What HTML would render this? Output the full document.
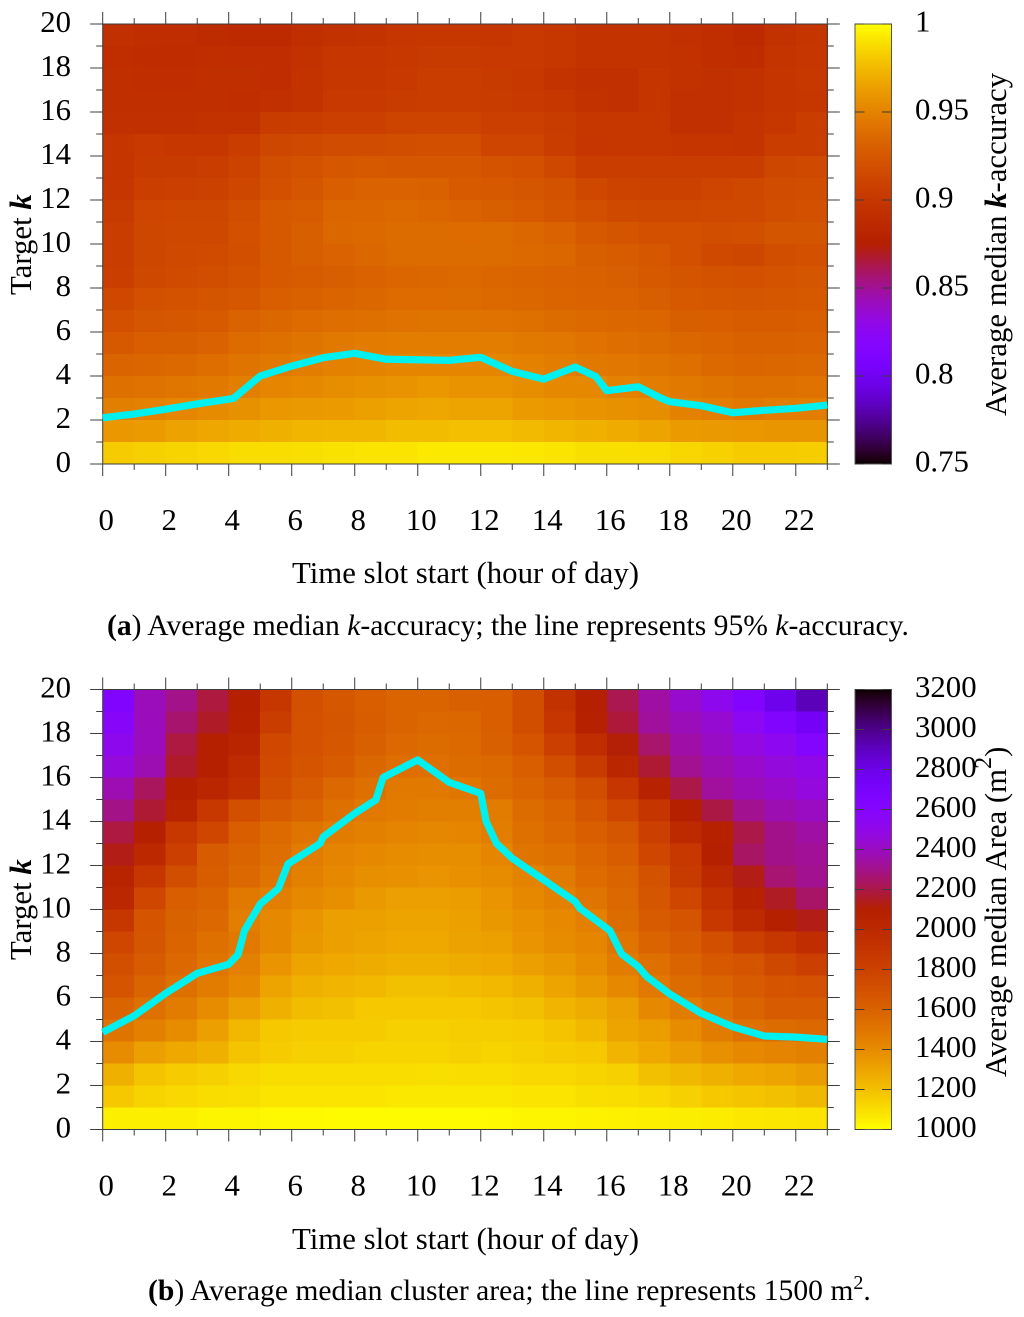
<!DOCTYPE html>
<html>
<head>
<meta charset="utf-8">
<title>Average median k-accuracy and cluster area heatmaps</title>
<style>
html,body{margin:0;padding:0;background:#fff;}
svg{display:block;font-family:"Liberation Serif",serif;fill:#000;}
</style>
</head>
<body>
<svg id="figure" xmlns="http://www.w3.org/2000/svg" width="1024" height="1317" viewBox="0 0 1024 1317">
  <g id="panel-a"></g>
  <g id="panel-b"></g>

  <text transform="translate(31,295) rotate(-90)" font-size="30.8">Target <tspan font-style="italic" font-weight="bold">k</tspan></text>
  <text x="292" y="583" font-size="30.8">Time slot start (hour of day)</text>
  <text transform="translate(1006,416) rotate(-90)" font-size="30.8">Average median <tspan font-style="italic" font-weight="bold">k</tspan>-accuracy</text>
  <text x="107" y="635" font-size="29.6"><tspan font-weight="bold">(a</tspan>) Average median <tspan font-style="italic">k</tspan>-accuracy; the line represents 95% <tspan font-style="italic">k</tspan>-accuracy.</text>

  <text transform="translate(31,960) rotate(-90)" font-size="30.8">Target <tspan font-style="italic" font-weight="bold">k</tspan></text>
  <text x="292" y="1249" font-size="30.8">Time slot start (hour of day)</text>
  <text transform="translate(1006,1077) rotate(-90)" font-size="30.8">Average median Area (m<tspan dy="-15" font-size="24">2</tspan><tspan dy="15">)</tspan></text>
  <text x="148" y="1300" font-size="29.6"><tspan font-weight="bold">(b</tspan>) Average median cluster area; the line represents 1500 m<tspan dy="-11" font-size="20">2</tspan><tspan dy="11">.</tspan></text>
</svg>

<script>
// Shared axis categories
const hourEdges = [0,1,2,3,4,5,6,7,8,9,10,11,12,13,14,15,16,17,18,19,20,21,22,23];
const xTickLabels = [0,2,4,6,8,10,12,14,16,18,20,22];
const yTickLabels = [0,2,4,6,8,10,12,14,16,18,20];

// Panel (a): median k-accuracy. Rows listed from k=20 (top) to k=1 (bottom).
const accuracyRows = [
[.893,.891,.890,.888,.887,.887,.892,.895,.896,.899,.900,.900,.899,.902,.900,.896,.896,.896,.893,.891,.887,.895,.898],
[.891,.889,.889,.891,.890,.890,.895,.899,.899,.901,.903,.903,.902,.902,.900,.896,.896,.896,.894,.891,.889,.897,.899],
[.892,.891,.890,.892,.892,.890,.896,.900,.900,.902,.906,.906,.903,.901,.896,.893,.893,.898,.895,.893,.895,.898,.901],
[.892,.892,.892,.892,.891,.893,.896,.902,.902,.904,.906,.905,.904,.902,.900,.894,.893,.898,.893,.893,.895,.898,.900],
[.893,.893,.893,.895,.895,.904,.906,.908,.908,.911,.911,.911,.908,.908,.904,.900,.900,.900,.893,.893,.897,.900,.906],
[.898,.902,.900,.900,.906,.913,.915,.917,.917,.918,.919,.919,.912,.912,.906,.899,.900,.900,.898,.898,.897,.905,.905],
[.898,.903,.903,.905,.910,.918,.921,.925,.926,.925,.925,.925,.922,.920,.914,.905,.905,.905,.905,.905,.905,.913,.915],
[.899,.907,.908,.909,.913,.920,.924,.929,.932,.932,.931,.927,.926,.924,.921,.914,.910,.909,.909,.912,.914,.917,.918],
[.903,.912,.913,.913,.918,.926,.928,.934,.934,.936,.934,.932,.930,.927,.923,.919,.915,.914,.914,.915,.915,.918,.920],
[.905,.913,.914,.914,.920,.926,.930,.935,.936,.938,.938,.937,.938,.935,.932,.926,.923,.920,.920,.918,.919,.923,.923],
[.905,.913,.915,.916,.919,.926,.930,.932,.935,.938,.938,.938,.938,.936,.935,.930,.928,.925,.920,.915,.913,.918,.920],
[.907,.914,.916,.918,.921,.926,.928,.930,.932,.934,.935,.936,.934,.933,.932,.931,.930,.926,.923,.921,.920,.922,.924],
[.914,.920,.921,.923,.925,.929,.931,.933,.935,.937,.937,.938,.936,.935,.933,.932,.932,.930,.926,.925,.924,.925,.926],
[.920,.924,.925,.927,.932,.935,.937,.939,.940,.941,.942,.942,.941,.940,.938,.936,.935,.934,.930,.929,.928,.928,.929],
[.926,.929,.930,.932,.937,.940,.942,.945,.946,.947,.947,.947,.947,.945,.944,.941,.939,.938,.935,.933,.931,.931,.932],
[.933,.934,.936,.939,.942,.945,.947,.949,.950,.951,.951,.951,.951,.949,.947,.945,.944,.942,.940,.936,.934,.935,.936],
[.940,.941,.943,.945,.948,.951,.953,.955,.957,.958,.960,.958,.958,.955,.953,.953,.949,.947,.945,.942,.940,.940,.941],
[.948,.949,.951,.954,.957,.960,.961,.962,.964,.966,.967,.966,.966,.962,.960,.958,.957,.955,.949,.947,.945,.947,.947],
[.960,.962,.965,.967,.969,.971,.973,.974,.974,.976,.976,.977,.977,.975,.973,.971,.969,.966,.962,.961,.960,.959,.959],
[.982,.9835,.985,.9865,.988,.988,.989,.990,.991,.991,.9925,.9925,.9925,.992,.991,.989,.989,.988,.986,.984,.982,.982,.983]
];
const colorbarATicks = [0.75,0.8,0.85,0.9,0.95,1];
const lineAHours = [0,1,2,3,4.15,5,6,7,8,9,10,11,12,13,14,15,15.66,16,17,17.7,18,19,20,21,22,23];
const lineAK = [2.1,2.27,2.49,2.73,2.98,4.0,4.45,4.83,5.03,4.76,4.74,4.71,4.85,4.21,3.86,4.41,3.97,3.33,3.51,3.01,2.83,2.65,2.33,2.44,2.53,2.68];

// Panel (b): median cluster area. Rows listed from k=20 (top) to k=1 (bottom).
const areaRows = [
[2640,2386,2298,2188,2100,1880,1704,1658,1620,1590,1590,1611,1620,1720,1924,2100,2210,2342,2430,2518,2628,2782,2914],
[2584,2390,2254,2155,2080,1836,1700,1670,1630,1590,1570,1575,1620,1725,1890,2075,2180,2330,2385,2440,2540,2640,2740],
[2520,2395,2190,2095,2040,1760,1700,1665,1610,1570,1550,1565,1610,1680,1810,1970,2110,2250,2350,2410,2480,2530,2620],
[2460,2370,2160,2090,1980,1740,1680,1640,1575,1540,1535,1550,1565,1620,1720,1860,2030,2170,2310,2370,2420,2465,2500],
[2370,2230,2090,2030,1950,1710,1640,1570,1530,1490,1485,1500,1550,1590,1640,1720,1890,2070,2200,2330,2385,2420,2470],
[2295,2170,2060,1870,1710,1640,1585,1530,1490,1470,1455,1455,1470,1550,1590,1670,1770,1900,2095,2195,2310,2370,2400],
[2190,2095,1870,1770,1620,1560,1510,1470,1450,1435,1420,1430,1465,1530,1570,1620,1670,1810,1990,2075,2200,2300,2345],
[2130,2010,1810,1640,1590,1540,1470,1435,1415,1400,1395,1395,1430,1510,1530,1580,1630,1770,1870,2090,2240,2300,2320],
[2050,1880,1720,1630,1570,1510,1450,1415,1385,1380,1365,1380,1400,1440,1480,1555,1585,1690,1850,2000,2130,2260,2310],
[2020,1770,1620,1590,1490,1455,1415,1385,1345,1320,1320,1330,1365,1415,1450,1510,1570,1670,1770,1930,2070,2150,2245],
[1880,1680,1600,1570,1455,1415,1365,1320,1315,1300,1300,1315,1350,1380,1415,1450,1550,1640,1680,1870,1990,2090,2130],
[1770,1670,1590,1530,1485,1410,1350,1320,1300,1285,1285,1310,1315,1365,1400,1430,1510,1590,1640,1710,1810,1880,1970],
[1710,1640,1570,1510,1450,1365,1300,1285,1270,1255,1255,1270,1285,1320,1350,1400,1470,1530,1590,1650,1680,1760,1810],
[1680,1590,1530,1470,1415,1300,1255,1240,1225,1200,1200,1213,1225,1255,1300,1350,1415,1490,1550,1590,1640,1680,1700],
[1590,1530,1470,1400,1320,1255,1213,1198,1171,1171,1171,1171,1185,1198,1240,1270,1320,1415,1470,1530,1590,1640,1640],
[1510,1450,1400,1320,1225,1171,1158,1158,1158,1145,1145,1150,1150,1158,1185,1225,1300,1330,1400,1470,1530,1550,1570],
[1400,1320,1286,1256,1185,1158,1145,1145,1132,1132,1132,1145,1132,1145,1158,1171,1241,1286,1332,1381,1416,1433,1450],
[1256,1185,1158,1145,1119,1106,1106,1106,1106,1106,1095,1106,1106,1119,1119,1132,1145,1198,1227,1256,1286,1300,1332],
[1171,1132,1119,1106,1095,1081,1081,1081,1081,1067,1067,1067,1067,1081,1081,1095,1106,1119,1145,1171,1185,1198,1227],
[1044,1044,1044,1033,1033,1020,1020,1015,1015,1015,1015,1015,1020,1030,1033,1036,1040,1044,1050,1055,1070,1075,1081]
];
const colorbarBTicks = [1000,1200,1400,1600,1800,2000,2200,2400,2600,2800,3000,3200];
const lineBHours = [0,1,2,3,4,4.3,4.5,5,5.58,5.88,6.9,7,8,8.67,8.9,10,11,12,12.17,12.5,13,15,15.15,16.1,16.47,17,17.27,18,19,20,21,22,23];
const lineBK = [4.42,5.17,6.19,7.1,7.51,7.96,9.04,10.25,10.96,12.07,13.0,13.3,14.37,14.98,16.0,16.8,15.78,15.28,14.0,13.0,12.33,10.36,10.05,9.04,7.98,7.4,6.95,6.16,5.28,4.67,4.25,4.2,4.1];

const SVGNS = 'http://www.w3.org/2000/svg';

function make(parent, tag, attrs, text) {
  const el = document.createElementNS(SVGNS, tag);
  for (const key in attrs) el.setAttribute(key, attrs[key]);
  if (text !== undefined) el.textContent = text;
  parent.appendChild(el);
  return el;
}

// gnuplot rgbformulae 7,5,15
function palette(t) {
  const c = Math.max(0, Math.min(1, t));
  const r = Math.sqrt(c);
  const g = c * c * c;
  const b = Math.max(0, Math.sin(2 * Math.PI * c));
  return 'rgb(' + Math.round(r * 255) + ',' + Math.round(g * 255) + ',' + Math.round(b * 255) + ')';
}

const plotLeft = 102.7;
const plotRight = 827.3;
const plotHeight = 440;
const barLeft = 855;
const barRight = 891.5;
const axisColor = '#3c3c3c';

function drawPanel(group, rows, top, colorOf, barMin, barMax, barTicks, barColorOf, lineHours, lineK, prefix) {
  const bottom = top + plotHeight;
  const hourMax = hourEdges[hourEdges.length - 1];
  const kMax = yTickLabels[yTickLabels.length - 1];
  const x = h => plotLeft + (h / hourMax) * (plotRight - plotLeft);
  const y = k => bottom - (k / kMax) * plotHeight;
  const barY = v => bottom - ((v - barMin) / (barMax - barMin)) * plotHeight;

  const cells = make(group, 'g', {'shape-rendering': 'crispEdges'});
  
  
  rows.forEach((row, r) => {
    const kHigh = kMax - r;
    row.forEach((value, c) => {
      const cell = make(cells, 'rect', {
        x: x(hourEdges[c]),
        y: y(kHigh),
        width: x(hourEdges[c + 1]) - x(hourEdges[c]) + 0.5,
        height: y(kHigh - 1) - y(kHigh) + 0.5,
        fill: colorOf(value)
      });
      
      
    });
  });

  const ticks = make(group, 'g', {stroke: axisColor, 'stroke-width': 1, fill: 'none'});
  
  
  hourEdges.forEach(h => {
    const len = h % 2 === 0 ? 12 : 6;
    make(ticks, 'line', {x1: x(h), x2: x(h), y1: bottom, y2: bottom + len});
    make(ticks, 'line', {x1: x(h), x2: x(h), y1: top, y2: top - len});
  });
  for (let k = 0; k <= kMax; k++) {
    const len = k % 2 === 0 ? 12.5 : 6.5;
    make(ticks, 'line', {x1: plotLeft, x2: plotLeft - len, y1: y(k), y2: y(k)});
    make(ticks, 'line', {x1: plotRight, x2: plotRight + len, y1: y(k), y2: y(k)});
  }

  const frame = make(group, 'rect', {x: plotLeft, y: top, width: plotRight - plotLeft, height: plotHeight, fill: 'none', stroke: axisColor, 'stroke-width': 1});
  
  

  xTickLabels.forEach(h => {
    const label = make(group, 'text', {x: x(h) + 3.5, y: bottom + 66, 'font-size': 30.8, 'text-anchor': 'middle'}, String(h));
    
    
  });
  yTickLabels.forEach(k => {
    const label = make(group, 'text', {x: 71, y: y(k) + 8, 'font-size': 30.8, 'text-anchor': 'end'}, String(k));
    
    
  });

  const line = make(group, 'polyline', {
    points: lineHours.map((h, i) => x(h) + ',' + y(lineK[i])).join(' '),
    fill: 'none',
    stroke: '#00f0f0',
    'stroke-width': 7.2,
    'stroke-linejoin': 'round',
    'stroke-linecap': 'butt'
  });
  
  

  const bar = make(group, 'g', {'shape-rendering': 'crispEdges'});
  
  
  for (let i = 0; i < plotHeight; i++) {
    const v = barMin + (barMax - barMin) * (i + 0.5) / plotHeight;
    make(bar, 'rect', {x: barLeft, y: bottom - i - 1, width: barRight - barLeft, height: 1, fill: barColorOf(v)});
  }
  const barFrame = make(group, 'rect', {x: barLeft, y: top, width: barRight - barLeft, height: plotHeight, fill: 'none', stroke: '#555', 'stroke-width': 1});
  
  

  barTicks.forEach(v => {
    const yy = barY(v);
    make(group, 'line', {x1: barLeft, x2: barLeft + 9.5, y1: yy, y2: yy, stroke: axisColor, 'stroke-width': 1});
    make(group, 'line', {x1: barRight, x2: barRight - 9.5, y1: yy, y2: yy, stroke: axisColor, 'stroke-width': 1});
    const label = make(group, 'text', {x: 915, y: yy + 7.5, 'font-size': 30.8}, String(v));
    
    
  });
}

const accuracyColor = v => palette((v - 0.75) / 0.25);
const areaColor = v => palette(1 - (v - 1000) / 2200);

drawPanel(document.getElementById('panel-a'), accuracyRows, 24, accuracyColor, 0.75, 1, colorbarATicks, accuracyColor, lineAHours, lineAK, 'panel-a');
drawPanel(document.getElementById('panel-b'), areaRows, 689.5, areaColor, 1000, 3200, colorbarBTicks, areaColor, lineBHours, lineBK, 'panel-b');
</script>
</body>
</html>
